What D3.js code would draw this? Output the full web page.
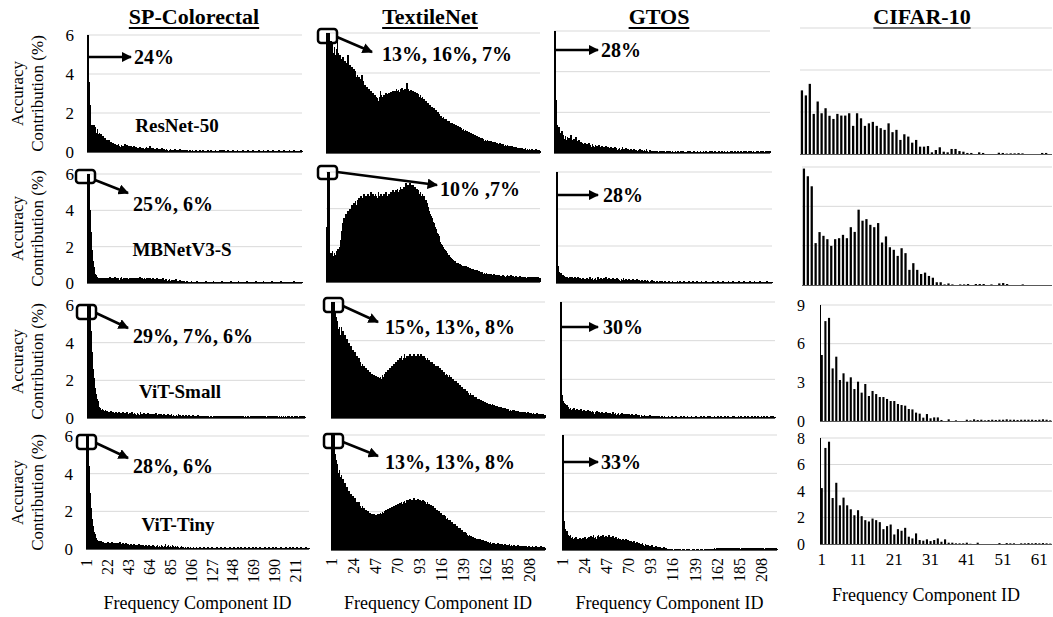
<!DOCTYPE html>
<html><head><meta charset="utf-8">
<script src="https://cdn.jsdelivr.net/npm/d3@7/dist/d3.min.js"></script>
<style>body{margin:0;background:#fff}svg{display:block}text{font-family:'Liberation Serif','Times New Roman',serif;fill:#000}</style>
</head><body><svg id="c" width="1053" height="617"></svg>
<script>
const datasets = ["SP-Colorectal","TextileNet","GTOS","CIFAR-10"];
const models = ["ResNet-50","MBNetV3-S","ViT-Small","ViT-Tiny"];
const spTicks = [1,22,43,64,85,106,127,148,169,190,211];
const txTicks = [1,24,47,70,93,116,139,162,185,208];
const gtTicks = [1,24,47,70,93,116,139,162,185,208];
const cfTicks = [1,11,21,31,41,51,61];
const yTicksMain = [0,2,4,6];
const yTicksViTS = [0,3,6,9];
const yTicksViTT = [0,2,4,6,8];
const xTitle = "Frequency Component ID";
const yTitle = ["Accuracy","Contribution (%)"];

// SP-Colorectal
const spResNet = [24,3.6,2.4,1.4,1.3,1.4,1.1,1.4,1.3,1,
1.2,.9,1,.8,.9,.7,.8,.6,.7,.5,
.6,.5,.6,.4,.5,.4,.45,.35,.4,.3,
.35,.3,.4,.3,.25,.35,.3,.25,.3,.4,
.3,.35,.25,.3,.2,.3,.25,.2,.3,.2,
.25,.2,.15,.2,.25,.2,.15,.2,.2,.15,
.2,.25,.2,.15,.2,.3,.2,.15,.2,.15,
.1,.15,.2,.1,.15,.1,.15,.2,.1,.15,
.1,.1,.15,.1,.05,.1,.15,.1,.05,.1,
.1,.15,.1,.1,.05,.1,.15,.1,.05,.1,
.05,.1,.05,.08,.05,.03,.1,.05,.05,.08,
.05,.03,.05,.1,.05,.05,.03,.08,.05,.05,
.1,.05,.03,.05,.05,.08,.03,.05,.1,.05,
.05,.03,.05,.08,.05,.03,.05,.05,.1,.05,
.08,.05,.12,.05,.03,.05,.1,.05,.05,.03,
.05,.08,.05,.03,.05,.05,.1,.03,.05,.05,
.03,.05,.08,.05,.05,.03,.05,.1,.05,.03,
.05,.05,.08,.03,.05,.05,.03,.05,.08,.05,
.03,.05,.05,.1,.05,.03,.05,.05,.08,.05,
.05,.03,.05,.08,.05,.05,.03,.05,.05,.1,
.05,.03,.05,.05,.08,.05,.03,.05,.05,.05,
.08,.05,.03,.05,.05,.1,.05,.03,.05,.05,
.05,.03,.08,.05];
const spMBNet = [25,6,4,2.8,1.8,1.2,.9,.7,.5,.45,
.35,.3,.25,.3,.2,.25,.3,.2,.25,.15,
.3,.2,.25,.35,.2,.25,.3,.2,.35,.25,
.2,.3,.25,.15,.3,.35,.2,.25,.3,.2,
.25,.3,.2,.15,.25,.3,.2,.25,.15,.3,
.25,.2,.3,.2,.35,.25,.15,.3,.2,.25,
.2,.3,.15,.25,.2,.3,.15,.2,.25,.2,
.15,.2,.25,.15,.2,.1,.2,.15,.25,.15,
.1,.2,.15,.1,.15,.2,.1,.15,.1,.15,
.1,.15,.2,.1,.1,.05,.15,.1,.1,.05,
.1,.05,.08,.1,.05,.03,.08,.05,.1,.05,
.05,.08,.03,.05,.1,.05,.03,.05,.08,.05,
.03,.05,.05,.1,.03,.05,.08,.05,.05,.03,
.05,.1,.05,.03,.05,.05,.08,.03,.05,.05,
.1,.05,.03,.05,.08,.05,.05,.03,.05,.1,
.05,.03,.08,.05,.05,.03,.05,.1,.05,.03,
.05,.05,.08,.03,.05,.05,.1,.05,.03,.05,
.08,.05,.03,.05,.05,.1,.03,.05,.05,.08,
.05,.03,.05,.1,.05,.05,.03,.08,.05,.05,
.03,.05,.1,.05,.05,.03,.05,.08,.05,.03,
.05,.1,.05,.03,.05,.05,.08,.05,.03,.05,
.05,.03,.08,.05,.05,.1,.05,.03,.05,.05,
.08,.05,.03,.05];
const spViTS = [29,7,6,4.6,3.5,2.6,2.1,1.6,1.3,1,
.9,.7,.6,.55,.45,.5,.4,.35,.4,.3,
.35,.3,.25,.3,.35,.25,.3,.2,.25,.3,
.2,.25,.3,.2,.25,.15,.3,.2,.25,.2,
.3,.2,.15,.25,.2,.3,.15,.2,.25,.2,
.15,.25,.2,.15,.3,.2,.15,.2,.25,.15,
.2,.15,.25,.2,.15,.2,.1,.2,.15,.2,
.25,.15,.1,.2,.15,.2,.1,.15,.2,.1,
.15,.1,.2,.15,.1,.15,.2,.1,.15,.1,
.1,.15,.1,.2,.1,.15,.1,.05,.15,.1,
.1,.15,.05,.1,.15,.1,.05,.1,.15,.1,
.05,.1,.1,.15,.05,.1,.08,.1,.05,.12,
.1,.05,.1,.08,.12,.05,.1,.08,.05,.1,
.08,.1,.05,.12,.08,.05,.1,.08,.1,.05,
.1,.08,.05,.1,.12,.05,.08,.1,.05,.08,
.05,.1,.08,.05,.1,.05,.08,.12,.05,.08,
.1,.05,.08,.05,.1,.08,.05,.1,.05,.08,
.05,.08,.1,.05,.08,.05,.1,.05,.08,.05,
.1,.05,.08,.05,.05,.1,.08,.05,.08,.05,
.08,.05,.1,.05,.08,.05,.05,.1,.05,.08,
.05,.1,.05,.08,.05,.05,.08,.1,.05,.05,
.08,.05,.05,.1,.05,.08,.05,.05,.08,.05,
.1,.05,.08,.05];
const spViTT = [28,6,4.4,3,2.2,1.6,1.2,.9,.8,.6,
.5,.45,.4,.35,.4,.3,.35,.3,.25,.3,
.25,.35,.3,.25,.3,.35,.25,.3,.2,.3,
.25,.3,.2,.35,.25,.2,.3,.25,.2,.3,
.2,.25,.15,.2,.25,.15,.2,.25,.2,.15,
.2,.15,.25,.1,.2,.15,.2,.1,.15,.2,
.15,.1,.2,.15,.1,.15,.2,.1,.15,.1,
.15,.2,.1,.15,.1,.2,.15,.1,.15,.25,
.1,.15,.2,.1,.15,.1,.2,.15,.1,.15,
.1,.15,.1,.05,.1,.15,.1,.1,.05,.1,
.05,.1,.08,.05,.1,.05,.03,.08,.05,.05,
.08,.03,.05,.05,.1,.05,.03,.05,.08,.05,
.03,.05,.1,.05,.05,.03,.08,.05,.05,.03,
.05,.08,.05,.03,.05,.1,.05,.05,.03,.08,
.05,.05,.03,.05,.1,.05,.03,.05,.08,.05,
.05,.03,.08,.05,.05,.1,.03,.05,.05,.08,
.03,.05,.05,.1,.05,.03,.05,.08,.05,.05,
.1,.05,.03,.05,.08,.05,.05,.03,.05,.1,
.05,.03,.05,.08,.05,.05,.03,.08,.05,.05,
.1,.05,.03,.05,.05,.08,.05,.03,.05,.05,
.08,.05,.05,.03,.1,.05,.05,.08,.03,.05,
.05,.1,.05,.03,.05,.08,.05,.05,.03,.05,
.08,.05,.05,.03];

// TextileNet
const txResNet = [13,16,7,2.8,5.6,5.2,5.5,5,5.3,4.9,
5.2,5.6,5,4.6,4.9,4.7,4.5,4.8,4.4,4.6,
4.3,4.5,4.9,4.2,4.4,4.1,4.3,4,4.2,3.9,
4.1,3.8,3.9,3.7,3.8,3.5,3.7,3.9,3.6,3.3,
3.4,3.2,3.3,3.1,3.2,3,3.1,2.9,3,2.8,
2.9,2.7,2.8,2.75,2.6,2.8,3.1,2.9,2.75,2.8,
2.9,2.8,3,2.85,2.95,3,2.9,3.05,2.95,3.1,
3,3.1,3.05,3.2,3.1,3.15,3.05,3.2,3.1,3.25,
3.15,3.1,3.2,3.05,3.5,3.2,3.1,3,3.15,3.05,
3.1,2.95,3.05,2.9,3,2.85,2.95,2.8,2.9,2.75,
2.8,2.65,2.7,2.55,2.6,2.45,2.5,2.35,2.4,2.3,
2.3,2.2,2.25,2.1,2.15,2,2.05,1.9,1.95,1.85,
1.85,1.75,1.8,1.7,1.65,1.7,1.6,1.55,1.6,1.5,
1.45,1.5,1.4,1.45,1.35,1.4,1.3,1.35,1.25,1.3,
1.2,1.25,1.15,1.2,1.1,1.15,1.05,1.1,1,1.05,
.95,1,.9,.95,.85,.9,.8,.85,.75,.8,
.75,.7,.75,.65,.7,.6,.65,.6,.65,.55,
.6,.55,.6,.5,.55,.5,.55,.45,.5,.45,
.45,.5,.4,.45,.4,.45,.35,.4,.35,.4,
.35,.3,.35,.3,.35,.25,.3,.25,.3,.25,
.25,.2,.25,.2,.25,.2,.15,.2,.25,.15,
.2,.15,.2,.1,.15,.2,.15,.1,.15,.2,
.15,.1,.15,.1];
const txMBNet = [3,10,7,1.2,1.6,1.5,1.7,1.4,1.6,1.5,
1.7,1.6,1.8,1.7,1.9,2.3,2.8,3.2,3.5,3.4,
3.7,3.6,3.9,3.8,4,3.9,4.2,4,4.3,4.1,
4.4,4.2,4.5,4.3,4.6,4.4,4.7,4.5,4.6,4.8,
4.6,4.7,4.5,4.8,4.6,4.7,4.9,4.6,4.8,4.7,
4.5,4.8,4.7,4.6,4.9,4.7,4.5,4.8,4.6,4.7,
4.8,4.6,4.9,4.7,4.5,4.8,4.6,4.9,4.7,5,
4.8,4.9,5,4.8,5.1,4.9,5,5.2,4.9,5.1,
5,5.2,5.1,5.4,5.2,5.3,5.1,5.4,5.3,5.2,
5.3,5.1,5.2,5,5.1,4.9,5,4.8,4.9,4.7,
4.8,4.6,4.7,4.5,4.5,4.3,4.1,3.9,3.7,3.6,
3.5,3.3,3.2,3,2.9,2.7,2.6,2.5,2.4,2.2,
2.1,2,1.9,1.8,1.75,1.7,1.6,1.5,1.45,1.35,
1.3,1.25,1.2,1.1,1.15,1.05,1,1.05,.95,1,
.9,.95,.9,.85,.9,.8,.85,.75,.8,.7,
.75,.7,.65,.7,.6,.65,.6,.65,.55,.6,
.55,.5,.55,.5,.45,.5,.45,.5,.45,.4,
.45,.4,.45,.4,.35,.45,.4,.35,.4,.35,
.4,.35,.3,.35,.4,.3,.35,.3,.35,.4,
.3,.35,.3,.4,.3,.35,.25,.3,.35,.3,
.25,.3,.35,.25,.3,.2,.3,.25,.3,.2,
.25,.3,.2,.25,.2,.3,.2,.25,.2,.25,
.2,.25,.2,.2];
const txViTS = [15,13,8,5.5,5.2,4.8,5,4.6,4.7,4.3,
4.7,4.3,4.5,4.1,4.3,4,4.1,3.8,3.9,3.6,
3.7,3.4,3.5,3.3,3.4,3.1,3.2,3,3.1,2.9,
2.9,2.7,2.8,2.6,2.7,2.5,2.6,2.4,2.5,2.3,
2.4,2.2,2.3,2.1,2.2,2.05,2.15,2,2.1,2,
2.05,2.1,2,2.2,2.1,2.3,2.2,2.4,2.3,2.5,
2.4,2.6,2.5,2.7,2.6,2.8,2.7,2.9,2.8,3,
2.9,3.1,3,3.2,3,3.1,3.3,3.1,3.2,3,
3.2,3.1,3.3,3.1,3.2,3,3.3,3.1,3.2,3,
3.3,3.2,3.1,3.3,3.1,3.2,3,3.2,3.1,3,
3.1,2.9,3,2.9,2.8,2.9,2.7,2.8,2.6,2.7,
2.6,2.7,2.5,2.6,2.4,2.5,2.4,2.3,2.4,2.2,
2.3,2.2,2.1,2.2,2,2.1,1.9,2,1.9,1.8,
1.9,1.7,1.8,1.6,1.7,1.5,1.6,1.5,1.4,1.5,
1.4,1.3,1.4,1.3,1.2,1.3,1.2,1.1,1.2,1.1,
1,1.1,1,.95,1,.9,.95,.85,.9,.8,
.85,.8,.75,.8,.7,.75,.7,.65,.7,.6,
.65,.6,.55,.6,.5,.55,.5,.55,.45,.5,
.45,.5,.4,.45,.4,.45,.35,.4,.35,.4,
.35,.4,.3,.35,.3,.35,.3,.25,.3,.25,
.3,.25,.3,.2,.25,.3,.2,.25,.2,.25,
.2,.25,.2,.15,.2,.25,.15,.2,.15,.2,
.15,.2,.15,.15];
const txViTT = [13,13,8,5,4.7,4.3,4.5,4,4.2,3.8,
3.9,3.6,3.7,3.4,3.5,3.2,3.3,3,3.1,2.9,
2.9,2.7,2.8,2.6,2.7,2.5,2.5,2.4,2.5,2.3,
2.3,2.2,2.3,2.1,2.2,2,2.1,1.95,2.05,1.9,
1.95,1.85,1.9,1.8,1.9,1.8,1.85,1.8,1.9,1.85,
1.9,1.95,1.9,2,1.95,2.05,2,2.1,2.05,2.15,
2.1,2.2,2.15,2.25,2.2,2.3,2.25,2.35,2.3,2.4,
2.35,2.45,2.4,2.5,2.4,2.5,2.55,2.45,2.6,2.5,
2.6,2.5,2.65,2.55,2.6,2.5,2.7,2.55,2.6,2.5,
2.65,2.55,2.6,2.5,2.55,2.6,2.45,2.55,2.5,2.4,
2.5,2.35,2.4,2.3,2.35,2.2,2.3,2.15,2.2,2.05,
2.1,2,2.05,1.9,1.95,1.85,1.8,1.85,1.7,1.75,
1.6,1.65,1.55,1.5,1.55,1.4,1.45,1.35,1.3,1.35,
1.2,1.25,1.15,1.1,1.15,1,1.05,.95,.9,.95,
.85,.9,.8,.75,.8,.7,.75,.65,.7,.6,
.65,.6,.55,.6,.5,.55,.5,.45,.5,.45,
.4,.45,.4,.35,.4,.35,.4,.3,.35,.3,
.35,.3,.25,.3,.35,.25,.3,.25,.3,.2,
.25,.3,.2,.25,.2,.25,.3,.2,.25,.2,
.2,.25,.2,.15,.2,.25,.15,.2,.15,.2,
.15,.2,.15,.2,.1,.15,.2,.15,.1,.15,
.2,.15,.1,.15,.2,.1,.15,.1,.15,.2,
.15,.1,.15,.1];

// GTOS
const gtResNet = [28,2.6,1.4,1.1,1.3,1,.9,1.1,.8,.9,
.7,.85,.65,.8,.6,.75,.7,.9,.6,.65,
.7,.55,.8,.6,.5,.65,.45,.55,.5,.4,
.45,.5,.35,.45,.4,.5,.35,.4,.3,.45,
.35,.3,.4,.25,.35,.3,.4,.25,.3,.35,
.25,.3,.2,.35,.25,.3,.2,.25,.3,.2,
.25,.15,.3,.2,.25,.15,.2,.25,.15,.2,
.3,.15,.2,.1,.25,.15,.2,.1,.15,.2,
.1,.15,.2,.1,.15,.05,.1,.15,.2,.1,
.15,.1,.05,.15,.1,.2,.1,.05,.1,.15,
.05,.1,.08,.03,.1,.05,.12,.05,0,.08,
.05,.1,.03,.08,.05,0,.1,.05,.08,.03,
.1,.05,.08,.03,.05,.1,0,.05,.08,.05,
.03,.08,.05,.1,.05,.03,0,.05,.1,.05,
.08,.03,.05,.05,.1,.03,.05,0,.08,.05,
.05,.1,.05,.03,.08,.05,.05,.1,.03,0,
.05,.08,.05,.1,.03,.05,.08,.05,.03,.05,
.1,.05,0,.08,.05,.03,.1,.05,.05,.08,
.03,.05,.1,.05,.08,.03,.05,.1,.05,.03,
.08,.05,.05,.1,.03,.05,.08,.05,.1,.05,
.05,.08,.03,.1,.05,.05,.08,.03,.05,.1,
.05,.08,.05,.03,.1,.05,.08,.05,.03,.08,
.05,.1,.05,.08];
const gtMBNet = [28,.9,.6,.5,.55,.4,.45,.35,.4,.3,
.35,.3,.25,.3,.35,.25,.3,.2,.25,.3,
.2,.25,.3,.2,.25,.2,.15,.25,.2,.15,
.2,.25,.15,.2,.3,.15,.2,.25,.15,.2,
.25,.15,.2,.3,.2,.15,.25,.2,.15,.25,
.2,.3,.15,.2,.25,.15,.2,.1,.25,.15,
.2,.15,.25,.1,.2,.15,.1,.2,.15,.25,
.1,.15,.2,.1,.15,.2,.1,.15,.1,.2,
.15,.1,.15,.2,.1,.15,.1,.1,.15,.1,
.1,.15,.05,.1,.15,.1,.05,.1,.1,.15,
.05,.1,.08,.05,.1,.05,.08,.12,.05,.1,
.08,.05,.1,.05,.08,.05,.1,.05,.08,.05,
.1,.05,.08,.05,.05,.1,.08,.05,.1,.05,
.08,.05,.1,.05,.08,.05,.05,.1,.05,.08,
.05,.1,.05,.08,.05,.1,.05,.05,.08,.05,
.1,.05,.08,.05,.05,.1,.05,.08,.05,.05,
.08,.05,.1,.05,.05,.08,.05,.1,.05,.08,
.05,.05,.1,.08,.05,.05,.08,.05,.1,.05,
.05,.08,.05,.1,.05,.05,.08,.05,.05,.1,
.05,.08,.05,.05,.1,.05,.08,.05,.05,.08,
.1,.05,.05,.08,.05,.1,.05,.05,.08,.05,
.05,.1,.05,.08,.05,.05,.08,.05,.1,.05,
.05,.08,.05,.05];
const gtViTS = [30,1.2,.9,.8,.7,.6,.65,.5,.55,.45,
.5,.4,.45,.35,.5,.4,.3,.45,.35,.4,
.3,.45,.35,.3,.4,.25,.35,.3,.4,.25,
.35,.3,.25,.35,.3,.2,.3,.25,.35,.2,
.3,.25,.2,.3,.25,.2,.25,.3,.15,.25,
.2,.25,.15,.2,.3,.15,.2,.25,.15,.2,
.25,.15,.2,.15,.25,.2,.1,.2,.15,.2,
.15,.2,.1,.15,.2,.1,.15,.1,.2,.15,
.1,.15,.1,.05,.15,.1,.1,.15,.05,.1,
.1,.05,.1,.15,.05,.1,.08,.05,.1,.05,
.08,.05,.1,.03,.05,.08,.05,.03,.1,.05,
.05,.03,.08,.05,.03,.05,.1,.05,.03,.05,
.08,.05,.03,.05,.05,.1,.03,.05,.08,.05,
.03,.05,.08,.05,.05,.03,.1,.05,.05,.03,
.05,.08,.05,.03,.05,.05,.1,.05,.03,.08,
.05,.05,.03,.08,.05,.1,.05,.03,.05,.05,
.08,.05,.03,.05,.1,.05,.05,.08,.03,.05,
.05,.1,.05,.03,.08,.05,.05,.03,.05,.1,
.05,.08,.03,.05,.05,.1,.05,.03,.08,.05,
.05,.03,.1,.05,.05,.08,.03,.05,.05,.1,
.05,.03,.08,.05,.05,.1,.05,.03,.05,.08,
.05,.05,.1,.03,.05,.08,.05,.05,.03,.1,
.05,.08,.05,.05];
const gtViTT = [33,1.5,1.1,.9,1,.8,.75,.7,.8,.65,
.7,.55,.65,.6,.7,.5,.6,.55,.65,.6,
.5,.65,.55,.7,.6,.5,.65,.7,.55,.75,
.6,.7,.8,.65,.7,.6,.75,.8,.65,.7,
.75,.6,.8,.7,.65,.75,.6,.7,.8,.65,
.7,.6,.75,.55,.65,.7,.5,.6,.65,.55,
.6,.5,.55,.6,.45,.5,.55,.4,.5,.45,
.4,.45,.35,.4,.45,.3,.35,.4,.3,.35,
.3,.25,.3,.35,.25,.2,.3,.25,.2,.25,
.2,.15,.2,.25,.15,.1,.15,.2,.1,.15,
.1,.15,.1,.05,.1,.15,.1,.05,.1,.05,
.03,.05,0,.03,.05,0,.02,.05,0,.03,
.05,0,.03,.02,0,.05,.03,0,.02,.05,
0,.03,.05,0,.02,.03,0,.05,.02,0,
.03,.05,0,.02,.05,.03,0,.02,.05,0,
.03,.02,.05,0,.03,.05,.02,.05,.08,.05,
.08,.05,.1,.05,.08,.1,.05,.08,.1,.05,
.1,.08,.05,.1,.08,.12,.05,.1,.08,.1,
.05,.1,.08,.12,.1,.05,.08,.1,.12,.08,
.1,.05,.12,.08,.1,.08,.05,.1,.12,.08,
.1,.08,.12,.05,.1,.08,.1,.12,.08,.1,
.05,.1,.08,.12,.1,.08,.05,.1,.08,.1,
.12,.08,.1,.05];

// CIFAR-10
const cfResNet = [3.03,2.79,3.34,1.91,2.5,1.94,2.18,1.82,1.67,1.91,
1.83,1.83,1.94,1.34,1.94,1.7,1.34,1.46,1.53,1.34,
1.23,1.15,1.46,1.04,1.15,.67,.94,.83,.54,.67,
.35,.35,.38,.08,.19,.32,.11,.08,.24,.24,
.14,.11,.05,.05,0,.08,.05,0,0,0,
.06,.05,.02,.03,.03,.04,.03,0,0,0,
0,.05,.05,0];
const cfMBNet = [5.92,5.53,5.02,2.13,2.69,2.5,2.33,1.99,2.33,2.38,
2.55,2.38,2.94,2.7,3.83,3.27,3.35,3.06,2.94,3.15,
2.16,2.47,1.92,1.79,1.48,1.87,1.62,.77,1.11,.77,
.56,.63,.46,.37,.14,.14,.03,.08,.03,0,
.03,.03,.05,0,.05,.05,.05,0,.03,0,
.08,.1,.05,0,0,0,.03,0,0,0,
0,0,0,0];
const cfViTS = [5.12,7.75,8,4.08,4.99,3.18,3.7,3.05,3.39,2.48,
3.05,2.2,2.87,1.94,2.33,2.09,1.86,1.86,1.71,1.55,
1.55,1.32,1.24,1.19,.93,.9,.65,.57,.26,.54,
.21,.28,.28,.08,0,.13,0,.05,0,0,
.1,.05,.13,.08,.1,.05,.08,.1,.08,.1,
.1,.13,.1,.1,.08,.1,.1,.1,.1,.08,
.1,.13,.1,.05];
const cfViTT = [4.22,7.25,7.72,3.47,4.62,2.92,3.5,2.92,2.62,2.17,
2.55,2.1,1.8,1.7,1.92,1.8,1.65,1.12,1.35,1.47,
.72,1.12,1,1.22,.55,.42,.8,.3,.25,.35,
.22,.3,.42,.17,.35,.1,.1,.05,.05,.05,
.1,.02,0,.1,0,0,0,0,0,.07,
0,.07,.05,.05,0,.05,.05,.07,.05,.07,
.05,.07,.05,.03];

const grid = [
  [spResNet, txResNet, gtResNet, cfResNet],
  [spMBNet, txMBNet, gtMBNet, cfMBNet],
  [spViTS, txViTS, gtViTS, cfViTS],
  [spViTT, txViTT, gtViTT, cfViTT]
];
// layout (pixels)
const PX = [
  [[87,302],[326,540],[554,770],[800,1052]],
  [[87,302],[326,540],[556,772],[802,1052]],
  [[87,305],[331,545],[560,775],[820,1052]],
  [[86,309],[331,545],[562,777],[820,1052]]
];
const PY = [
  [[35,152],[33,153],[31,153],[28,154]],
  [[174,283],[172,282],[172,283],[167,285]],
  [[305,418],[302,418],[302,418],[305,421]],
  [[436,549],[435,550],[435,550],[438,544]]
];
const notes = [
  {t:"24%",box:null,ar:[88,57,131,57],tx:134,ty:64},
  {t:"13%, 16%, 7%",box:[318,29,19,14],ar:[337,37,372,52],tx:382,ty:61},
  {t:"28%",box:null,ar:[555,50,598,50],tx:601,ty:57},
  {t:"25%, 6%",box:[76,170,19,13],ar:[95,180,128,193],tx:133,ty:211},
  {t:"10% ,7%",box:[318,166,19,13],ar:[337,172,437,185],tx:440,ty:196},
  {t:"28%",box:null,ar:[557,195,598,195],tx:603,ty:202},
  {t:"29%, 7%, 6%",box:[77,305,19,14],ar:[96,313,128,328],tx:133,ty:343},
  {t:"15%, 13%, 8%",box:[324,298,19,14],ar:[343,306,378,322],tx:385,ty:334},
  {t:"30%",box:null,ar:[561,327,598,327],tx:603,ty:334},
  {t:"28%, 6%",box:[77,435,19,14],ar:[96,443,128,458],tx:133,ty:473},
  {t:"13%, 13%, 8%",box:[324,434,19,14],ar:[343,442,378,456],tx:385,ty:469},
  {t:"33%",box:null,ar:[563,462,598,462],tx:601,ty:469}
];
const modelPos = [[177,132],[182,256],[180,398],[178,531]];
const titleX = [194,430,659,922];
const FONT = "'Liberation Serif','Times New Roman',serif";

const svg = d3.select('#c');
svg.append('defs').append('marker').attr('id','ah').attr('viewBox','0 0 10 10')
  .attr('refX',9).attr('refY',5).attr('markerWidth',4.2).attr('markerHeight',4.2)
  .attr('orient','auto').attr('markerUnits','strokeWidth')
  .append('path').attr('d','M0,0 L10,5 L0,10 z').attr('fill','#000');

// titles
datasets.forEach((name,c)=>{
  const t = svg.append('text').attr('x',titleX[c]).attr('y',24).attr('text-anchor','middle')
    .attr('font-size',22).attr('font-weight','bold').text(name);
  const w = t.node().getComputedTextLength();
  svg.append('line').attr('x1',titleX[c]-w/2).attr('x2',titleX[c]+w/2)
    .attr('y1',28).attr('y2',28).attr('stroke','#000').attr('stroke-width',2);
});

grid.forEach((row,r)=>{
  row.forEach((data,c)=>{
    const [x0,x1] = PX[r][c];
    const [yT,yB] = PY[r][c];
    let ticks = yTicksMain, max = 6;
    if (c===3 && r===2) {ticks = yTicksViTS; max = 9;}
    if (c===3 && r===3) {ticks = yTicksViTT; max = 8;}
    const ids = d3.range(1, data.length+1);
    const x = d3.scaleBand().domain(ids).range([x0,x1]).paddingInner(c===3?0.42:0).paddingOuter(c===3?0.2:0);
    const y = d3.scaleLinear().domain([0,max]).range([yB,yT]);
    const g = svg.append('g');
    // gridlines
    g.selectAll('line.grid').data(ticks.filter(t=>t>0)).join('line')
      .attr('x1',x0).attr('x2',x1).attr('y1',d=>y(d)).attr('y2',d=>y(d))
      .attr('stroke','#d9d9d9').attr('stroke-width',1);
    // bars
    const dense = c!==3;
    g.selectAll('rect').data(data).join('rect')
      .attr('x',(d,i)=>x(i+1)).attr('width',dense ? x.bandwidth()+0.8 : x.bandwidth())
      .attr('y',d=>y(Math.min(d,max))).attr('height',d=>yB-y(Math.min(d,max)))
      .attr('fill','#000').attr('shape-rendering',dense?'crispEdges':'auto');
    // baseline
    g.append('line').attr('x1',x0).attr('x2',x1).attr('y1',yB+0.5).attr('y2',yB+0.5)
      .attr('stroke','#595959').attr('stroke-width',1);
    // y labels
    const showY = c===0 || (c===3 && r>=2);
    if (showY) {
      const ax = g.append('g').attr('transform',`translate(${c===0?x0-13:x0-15},0)`)
        .call(d3.axisLeft(y).tickValues(ticks).tickSize(0).tickPadding(0).tickFormat(d3.format('d')));
      ax.select('.domain').remove();
      ax.selectAll('text').attr('font-size',c===0?17:16).attr('font-family',FONT).attr('fill','#000');
    }
    if (c===3 && r>=2) {
      g.append('line').attr('x1',x0+0.5).attr('x2',x0+0.5).attr('y1',yT).attr('y2',yB)
        .attr('stroke','#000').attr('stroke-width',1);
    }
    // x labels (bottom row)
    if (r===3) {
      const tv = c===0 ? spTicks : (c===1 ? txTicks : (c===2 ? gtTicks : cfTicks));
      const ax = g.append('g').attr('transform',`translate(0,${yB})`)
        .call(d3.axisBottom(x).tickValues(tv).tickSize(0));
      ax.select('.domain').remove();
      ax.selectAll('text').attr('font-size',c===3?17:16).attr('font-family',FONT).attr('fill','#000');
      if (c<3) {
        ax.selectAll('text').attr('transform','rotate(-90)').attr('text-anchor','end')
          .attr('x',c===0?-10:-8).attr('y',0).attr('dy','0.35em');
      } else {
        ax.selectAll('text').attr('y',9);
      }
      const cx = (x0+x1)/2 + (c===3?-10:0);
      svg.append('text').attr('x',cx).attr('y',c===3?601:609).attr('text-anchor','middle')
        .attr('font-size',18).text(xTitle);
    }
  });
  // model label
  svg.append('text').attr('x',modelPos[r][0]).attr('y',modelPos[r][1]).attr('text-anchor','middle')
    .attr('font-size',19).attr('font-weight','bold').text(models[r]);
  // y axis title
  const cy = (PY[r][0][0]+PY[r][0][1])/2;
  svg.append('text').attr('transform',`translate(23,${cy}) rotate(-90)`).attr('text-anchor','middle')
    .attr('font-size',17).text(yTitle[0]);
  svg.append('text').attr('transform',`translate(43,${cy}) rotate(-90)`).attr('text-anchor','middle')
    .attr('font-size',17).text(yTitle[1]);
});

// annotations
notes.forEach(n=>{
  if (n.box) svg.append('rect').attr('x',n.box[0]).attr('y',n.box[1]).attr('width',n.box[2]).attr('height',n.box[3])
    .attr('rx',3).attr('fill','none').attr('stroke','#000').attr('stroke-width',2.5);
  svg.append('line').attr('x1',n.ar[0]).attr('y1',n.ar[1]).attr('x2',n.ar[2]).attr('y2',n.ar[3])
    .attr('stroke','#000').attr('stroke-width',2.5).attr('marker-end','url(#ah)');
  svg.append('text').attr('x',n.tx).attr('y',n.ty).attr('font-size',20).attr('font-weight','bold').text(n.t);
});
</script></body></html>
